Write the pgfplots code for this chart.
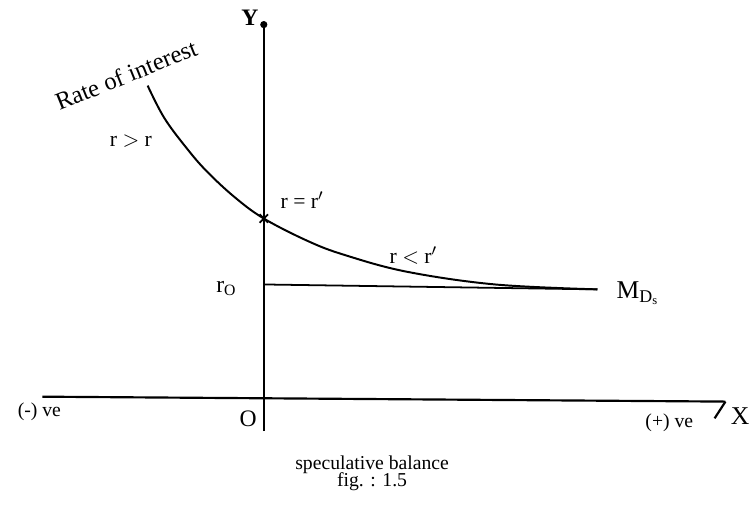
\documentclass[border=0pt]{standalone}
\usepackage{pgfplots}
\pgfplotsset{compat=1.18}
\usepackage{fontspec}
\setmainfont{Liberation Serif}
\usetikzlibrary{arrows.meta}

% Speculative demand for money (liquidity preference) curve
\pgfplotstableread{
x y
-118 318
-101 285
-78 254
-58 231
-30 205
0 183
45 160
82 146
145 129
235 116
339 111
}\mdcurve

\begin{document}
\begin{tikzpicture}
\begin{axis}[
  x=0.5pt, y=0.5pt,
  xmin=-268, xmax=488, ymin=-109, ymax=405,
  hide axis, clip=false,
  every node/.style={font=\fontsize{9.5}{10}\selectfont},
]
\path[draw=none] (rel axis cs:0,0) rectangle (rel axis cs:1,1);

% axes
\addplot[black, line width=1.1pt] coordinates {(-225,2) (469,-3)};
\addplot[black, line width=1.1pt] coordinates {(469,-3) (458,-20)};
\addplot[black, line width=1.2pt] coordinates {(0,-33) (0,380)};
\addplot[black, only marks, mark=*, mark size=1.6pt] coordinates {(0,380)};

% curve and floor rate
\addplot[black, line width=1pt, smooth, tension=0.6] table {\mdcurve};
\addplot[black, line width=0.9pt] coordinates {(0,116) (339,111)};
\addplot[black, only marks, mark=x, mark size=3pt, line width=0.9pt] coordinates {(0,183)};

% labels
\node at (axis cs:-14,387) {\fontsize{12}{13}\selectfont\bfseries Y};
\node at (axis cs:484,-18) {\fontsize{13}{14}\selectfont X};
\node at (axis cs:-16,-20) {\fontsize{12}{13}\selectfont O};
\node at (axis cs:-228,-13) {(-) ve};
\node at (axis cs:412,-25) {(+) ve};
\node at (axis cs:-38,112) {\fontsize{12}{13}\selectfont r\textsubscript{O}};
\node at (axis cs:380,107) {\fontsize{13}{14}\selectfont M\textsubscript{D\textsubscript{s}}};
\node at (axis cs:-135,262) {\fontsize{11}{12}\selectfont r $>$ r};
\node at (axis cs:39,202) {\fontsize{11}{12}\selectfont r = r$'$};
\node at (axis cs:152,145) {\fontsize{11}{12}\selectfont r $<$ r$'$};
\node[rotate=22] at (axis cs:-140,329) {\fontsize{12.5}{13}\selectfont Rate of interest};
\node at (axis cs:110,-67) {\fontsize{10}{11}\selectfont speculative balance};
\node at (axis cs:110,-84) {\fontsize{10}{11}\selectfont fig. : 1.5};
\end{axis}
\end{tikzpicture}
\end{document}
